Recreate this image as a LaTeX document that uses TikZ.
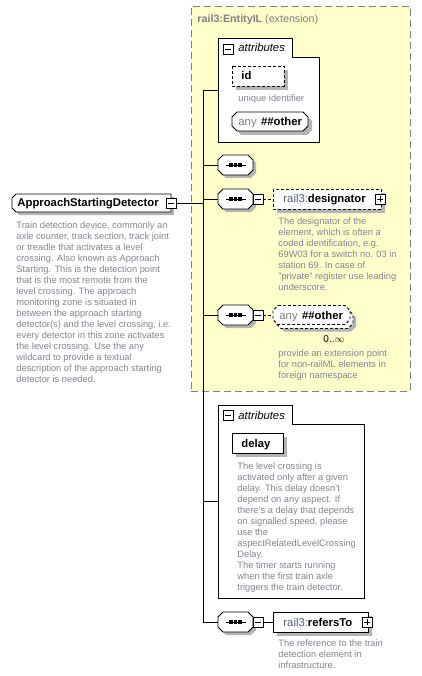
\documentclass[tikz,border=0pt]{standalone}
\usepackage{fontspec}
\setmainfont{Liberation Sans}
\usetikzlibrary{calc}
\definecolor{yel}{HTML}{FFFFCC}
\definecolor{shd}{HTML}{B4B4B4}
\definecolor{dsc}{RGB}{128,134,146}
\definecolor{pfx}{RGB}{85,95,120}
\definecolor{ttl}{RGB}{128,128,128}
% octagon around node #1, chamfer #2, offset (#3,#4), options #5
\newcommand\octo[5]{\draw[#5] ($(#1.north west)+(#2+#3,#4)$) -- ($(#1.north east)+(-#2+#3,#4)$) -- ($(#1.north east)+(#3,#2+#4)$) -- ($(#1.south east)+(#3,-#2+#4)$) -- ($(#1.south east)+(-#2+#3,#4)$) -- ($(#1.south west)+(#2+#3,#4)$) -- ($(#1.south west)+(#3,-#2+#4)$) -- ($(#1.north west)+(#3,#2+#4)$) -- cycle;}
% left-chamfered box
\newcommand\lcham[5]{\draw[#5] ($(#1.north west)+(#2+#3,#4)$) -- ($(#1.north east)+(#3,#4)$) -- ($(#1.south east)+(#3,#4)$) -- ($(#1.south west)+(#2+#3,#4)$) -- ($(#1.south west)+(#3,-#2+#4)$) -- ($(#1.north west)+(#3,#2+#4)$) -- cycle;}
\newcommand\rshadow[2]{\fill[shd] ($(#1.north west)+(#2,#2)$) rectangle ($(#1.south east)+(#2,#2)$);}
\newcommand\seqdots[1]{\draw ($(#1.center)+(-10,0)$) -- ($(#1.center)+(10,0)$);
  \foreach \dx in {-4.5,0,4.5} {\fill ($(#1.center)+(\dx-1.7,-1.7)$) rectangle ($(#1.center)+(\dx+1.7,1.7)$);}}
\newcommand\seqshape[1]{\octo{#1}{5}{3}{3}{fill=shd,draw=none}\octo{#1}{5}{0}{0}{fill=white,draw=black}\seqdots{#1}}
\newcommand\attrbox[1]{\draw[fill=white] (#1.north west) -- ($(#1.north west)+(74,0)$) -- ($(#1.north west)+(74,19)$) -- ($(#1.north east)+(0,19)$) -- (#1.south east) -- (#1.south west) -- cycle;}
\begin{document}
\begin{tikzpicture}[x=1pt,y=-1pt,line width=0.9pt,
  hold/.style={inner sep=0pt, outer sep=0pt},
  mbox/.style={draw, fill=white, minimum size=10pt, inner sep=0pt, line width=0.9pt},
  minus/.style={mbox, path picture={\draw[line width=0.9pt] ([xshift=2pt]path picture bounding box.west) -- ([xshift=-2pt]path picture bounding box.east);}},
  plus/.style={mbox, path picture={\draw[line width=0.9pt] ([xshift=2pt]path picture bounding box.west) -- ([xshift=-2pt]path picture bounding box.east); \draw[line width=0.9pt] ([yshift=-2pt]path picture bounding box.north) -- ([yshift=2pt]path picture bounding box.south);}},
  nm/.style={anchor=base west, inner sep=0pt, font=\fontsize{11.3}{13}\selectfont},
  desc/.style={anchor=north west, inner sep=0pt, align=left, text=dsc, font=\fontsize{9.3}{11}\selectfont},
  dsh/.style={dash pattern=on 3pt off 2pt}]
\useasboundingbox (0,0) rectangle (421,676);
\fill[white] (0,0) rectangle (421,676);
% extension area
\node[draw=ttl, fill=yel, dash pattern=on 7pt off 4pt, minimum width=219pt, minimum height=385pt, anchor=north west, inner sep=0pt] (ext) at (191,6) {};
\node[anchor=base west, inner sep=0pt, text=ttl, font=\fontsize{10.7}{12}\selectfont] (title) at (197,23) {\textbf{rail3:EntityIL} (extension)};
% holder nodes
\node[hold, minimum width=159pt, minimum height=18pt] (elem) at (91.5,203) {};
\node[hold, minimum width=101pt, minimum height=104pt] (attr1) at (268.5,90) {};
\node[hold, minimum width=52pt, minimum height=20pt] (idb) at (258,76) {};
\node[hold, minimum width=76pt, minimum height=19pt] (anyo1) at (270,121.5) {};
\node[hold, minimum width=35pt, minimum height=20pt] (seq1) at (235.5,165) {};
\node[hold, minimum width=35pt, minimum height=20pt] (seq2) at (235.5,199) {};
\node[hold, minimum width=108pt, minimum height=20pt] (desig) at (327,199) {};
\node[hold, minimum width=35pt, minimum height=20pt] (seq3) at (235.5,315) {};
\node[hold, minimum width=77pt, minimum height=19pt] (anyo2) at (311.5,315) {};
\node[hold, minimum width=146pt, minimum height=193pt] (attr2) at (291,501.5) {};
\node[hold, minimum width=51pt, minimum height=20pt] (delay) at (257.5,443) {};
\node[hold, minimum width=35pt, minimum height=20pt] (seq4) at (235.5,622) {};
\node[hold, minimum width=95pt, minimum height=20pt] (refto) at (320.5,622) {};
\coordinate (top) at (203,90);
\coordinate (bot) at (203,622);
% connectors
\draw (attr1.west) -- (top) -- (bot) -- (seq4.west);
\draw (elem.east) -- (elem.east -| top);
\draw (seq1.west) -- (seq1.west -| top);
\draw (seq2.west) -- (seq2.west -| top);
\draw (seq3.west) -- (seq3.west -| top);
\draw (attr2.west) -- (attr2.west -| top);
\draw[dsh] (seq2.east) -- (desig.west);
\draw[dsh] (seq3.east) -- (anyo2.west);
\draw (seq4.east) -- (refto.west);
% element
\lcham{elem}{4}{3}{3}{fill=shd,draw=none}
\lcham{elem}{4}{0}{0}{fill=white,draw=black}
\node[nm] (t0) at (17,207) {\textbf{ApproachStartingDetector}};
\node[minus] (m0) at (171,203) {};
\node[desc] (d0) at (16,220.3) {\strut Train detection device, commonly an\\axle counter, track section, track joint\\or treadle that activates a level\\crossing. Also known as Approach\\Starting. This is the detection point\\that is the most remote from the\\level crossing. The approach\\monitoring zone is situated in\\between the approach starting\\detector(s) and the level crossing, i.e.\\every detector in this zone activates\\the level crossing. Use the any\\wildcard to provide a textual\\description of the approach starting\\detector is needed.};
% attributes 1
\attrbox{attr1}
\node[minus] (am1) at (228,49) {};
\node[nm] (at1) at (238,52) {\itshape attributes};
\rshadow{idb}{4}
\draw[dsh, fill=white] (idb.north west) rectangle (idb.south east);
\node[nm] (tid) at (241,80) {\textbf{id}};
\node[desc, anchor=base west] (did) at (238,102) {unique identifier};
\octo{anyo1}{5}{4}{4}{fill=shd,draw=none}
\octo{anyo1}{5}{0}{0}{fill=white,draw=black}
\node[nm] (tany1) at (238,125.5) {\textcolor{ttl}{any}\hspace{4.5pt}\textbf{\#\#other}};
% sequences
\seqshape{seq1}
\seqshape{seq2}
\node[minus] (m2) at (258,199) {};
\rshadow{desig}{4}
\draw[dsh, fill=white] (desig.north west) rectangle (desig.south east);
\node[nm] (tdes) at (283,203) {\textcolor{pfx}{rail3:}\textbf{designator}};
\node[plus] (p1) at (380,199) {};
\node[desc] (ddes) at (278,216.3) {\strut The designator of the\\element, which is often a\\coded identification, e.g.\\69W03 for a switch no. 03 in\\station 69. In case of\\"private" register use leading\\underscore.};
\seqshape{seq3}
\node[minus] (m3) at (258,315) {};
\octo{anyo2}{5}{6}{7}{fill=shd,draw=none}
\octo{anyo2}{5}{3}{4}{fill=white,draw=black,dsh}
\octo{anyo2}{5}{0}{0}{fill=white,draw=black,dsh}
\node[nm] (tany2) at (279,319) {\textcolor{ttl}{any}\hspace{4.5pt}\textbf{\#\#other}};
\node[anchor=base west, inner sep=0pt, font=\fontsize{10}{12}\selectfont] (mult) at (323,342) {0..$\infty$};
\node[desc] (dany) at (278,348.3) {\strut provide an extension point\\for non-railML elements in\\foreign namespace};
% attributes 2
\attrbox{attr2}
\node[minus] (am2) at (228,415) {};
\node[nm] (at2) at (238,419) {\itshape attributes};
\rshadow{delay}{4}
\draw[fill=white] (delay.north west) rectangle (delay.south east);
\node[nm] (tdel) at (241,447) {\textbf{delay}};
\node[desc] (ddel) at (237,461.3) {\strut The level crossing is\\activated only after a given\\delay. This delay doesn't\\depend on any aspect. If\\there's a delay that depends\\on signalled speed, please\\use the\\aspectRelatedLevelCrossing\\Delay.\\The timer starts running\\when the first train axle\\triggers the train detector.};
% refersTo
\seqshape{seq4}
\node[minus] (m4) at (258,622) {};
\rshadow{refto}{4}
\draw[fill=white] (refto.north west) rectangle (refto.south east);
\node[nm] (tref) at (283,626) {\textcolor{pfx}{rail3:}\textbf{refersTo}};
\node[plus] (p2) at (367,622) {};
\node[desc] (dref) at (278,638.3) {\strut The reference to the train\\detection element in\\infrastructure.};
\end{tikzpicture}
\end{document}
